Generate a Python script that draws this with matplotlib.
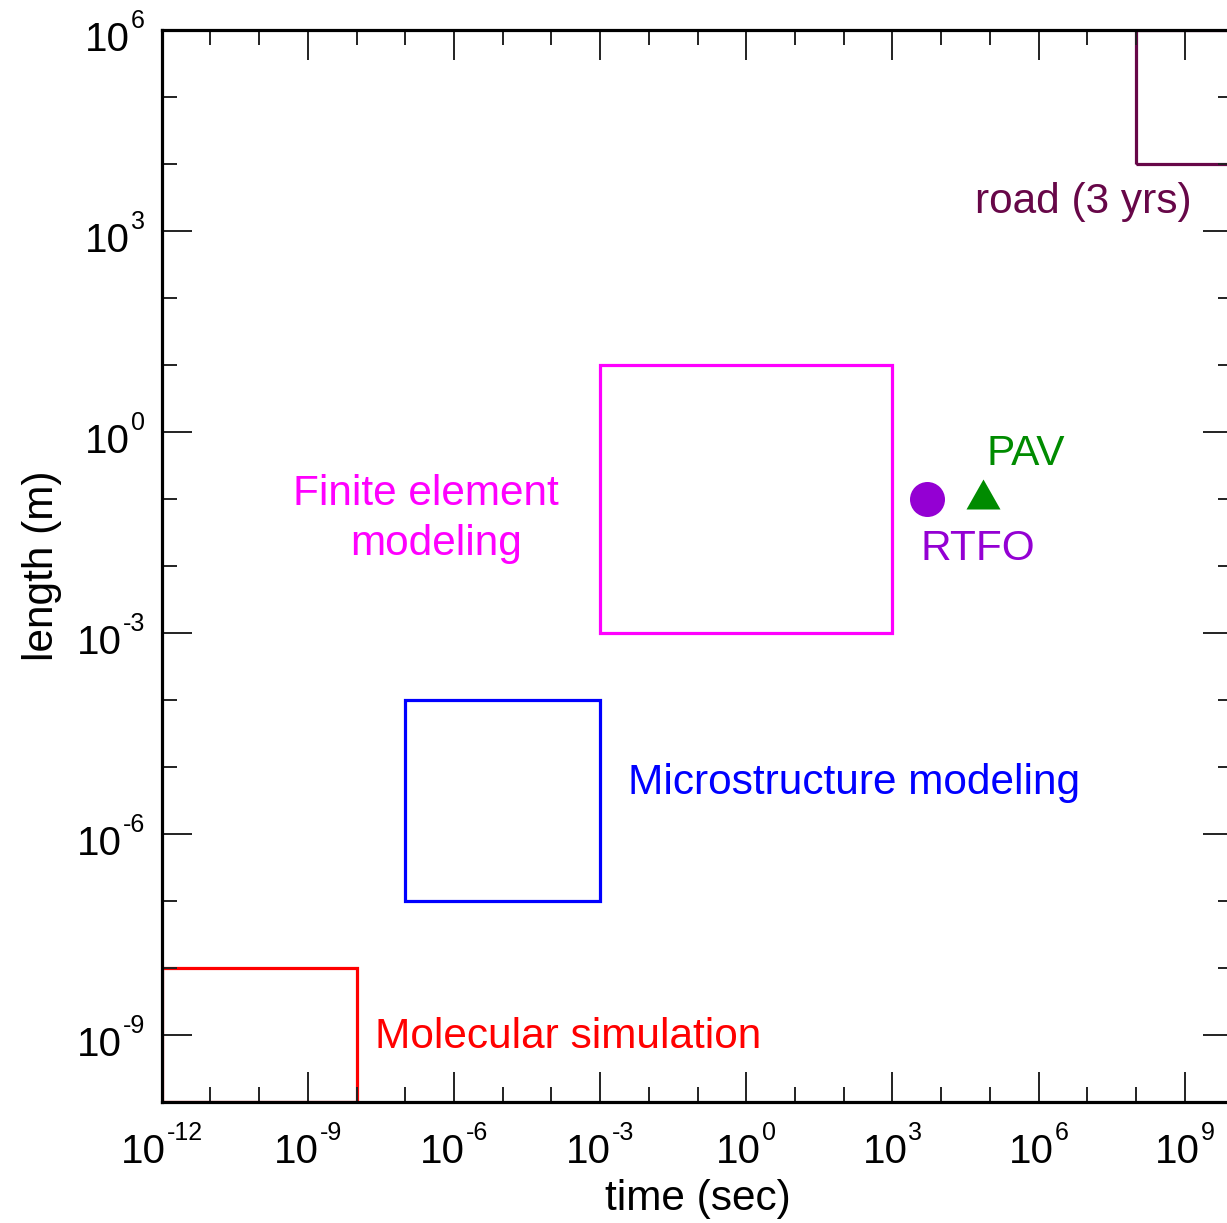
import matplotlib
matplotlib.use('Agg')
import matplotlib.pyplot as plt
import numpy as np
from matplotlib.patches import Rectangle
from matplotlib.ticker import LogLocator, NullFormatter
from matplotlib.transforms import offset_copy

plt.rcParams['font.family'] = ['Liberation Sans', 'DejaVu Sans']

# modelling scales: time range (sec) and length range (m) of each method
box_names = ['Molecular simulation', 'Microstructure modeling',
             'Finite element modeling', 'road (3 yrs)']
box_t0 = [1e-12, 1e-7, 1e-3, 1e8]
box_t1 = [1e-8, 1e-3, 1e3, 1e11]
box_l0 = [1e-10, 1e-7, 1e-3, 1e4]
box_l1 = [1e-8, 1e-4, 1e1, 1e6]
box_colors = ['#ff0000', '#0000ff', '#ff00ff', '#670748']

# lab ageing tests
test_names = ['RTFO', 'PAV']
test_time = [5100, 72000]   # 85 min, 20 h
test_length = [0.1, 0.1]

# decade exponents carrying a label
x_exps = [-12, -9, -6, -3, 0, 3, 6, 9]
y_exps = [-9, -6, -3, 0, 3, 6]

fig = plt.figure(figsize=(12.27, 12.23), dpi=100)
ax = fig.add_axes([161.7 / 1227, 121 / 1223, 1071.8 / 1227, 1072 / 1223])
ax.set_xscale('log')
ax.set_yscale('log')
ax.set_xlim(1e-12, 1e10)
ax.set_ylim(1e-10, 1e6)

for t0, t1, l0, l1, c in zip(box_t0, box_t1, box_l0, box_l1, box_colors):
    ax.add_patch(Rectangle((t0, l0), t1 - t0, l1 - l0, fill=False,
                           edgecolor=c, linewidth=2.3, zorder=1))

# triangle with its centroid on the data point
tri = [(0, 20), (-17, -10), (17, -10), (0, 20)]
ax.plot(test_time[0], test_length[0], 'o', color='#9400d3', markersize=25.2,
        markeredgewidth=0, zorder=3)
ax.plot(test_time[1], test_length[1], marker=tri, linestyle='none',
        color='#008b00', markersize=28.8, markeredgewidth=0, zorder=3)

fs = 30.5
ax.text(0.1225, 0.5569, 'Finite element', color='#ff00ff', fontsize=fs,
        transform=ax.transAxes, va='baseline')
ax.text(0.1757, 0.5103, 'modeling', color='#ff00ff', fontsize=fs,
        transform=ax.transAxes, va='baseline')
ax.text(0.4351, 0.2873, box_names[1], color='#0000ff', fontsize=fs,
        transform=ax.transAxes, va='baseline')
ax.text(0.1990, 0.0504, box_names[0], color='#ff0000', fontsize=fs,
        transform=ax.transAxes, va='baseline')
ax.text(0.7588, 0.8293, box_names[3], color='#670748', fontsize=fs,
        transform=ax.transAxes, va='baseline')
ax.text(0.7700, 0.5942, test_names[1], color='#008b00', fontsize=fs,
        transform=ax.transAxes, va='baseline')
ax.text(0.7084, 0.5056, test_names[0], color='#9400d3', fontsize=fs,
        transform=ax.transAxes, va='baseline')

ax.set_xticks(10.0 ** np.array(x_exps))
ax.set_yticks(10.0 ** np.array(y_exps))
ax.set_xticklabels([])
ax.set_yticklabels([])
ax.xaxis.set_minor_locator(LogLocator(base=10, subs=(1.0,), numticks=40))
ax.yaxis.set_minor_locator(LogLocator(base=10, subs=(1.0,), numticks=40))
ax.xaxis.set_minor_formatter(NullFormatter())
ax.yaxis.set_minor_formatter(NullFormatter())
ax.tick_params(which='both', direction='in', top=True, right=True,
               width=1.4, color='#222222')
ax.tick_params(which='major', length=21.6)
ax.tick_params(which='minor', length=10.8)
for sp in ax.spines.values():
    sp.set_linewidth(2.3)

# "10" plus a raised exponent, built from two texts so the exponent sits high
r = fig.canvas.get_renderer()


def power_label(pos, exp, axis):
    if axis == 'x':
        base = ax.get_xaxis_transform()
        xy = (pos, 0)
    else:
        base = ax.get_yaxis_transform()
        xy = (0, pos)
    main = ax.text(*xy, '10', fontsize=29, transform=base, va='baseline')
    sup = ax.text(*xy, str(exp), fontsize=18, transform=base, va='baseline')
    w1 = main.get_window_extent(r).width
    w2 = sup.get_window_extent(r).width
    gap = 1
    if axis == 'x':
        x0 = -(w1 + gap + w2) / 2
        main.set_transform(offset_copy(base, fig, x=x0, y=-61, units='dots'))
        sup.set_transform(offset_copy(base, fig, x=x0 + w1 + gap, y=-38,
                                      units='dots'))
    else:
        x1 = -16.7 - w2
        main.set_transform(offset_copy(base, fig, x=x1 - gap - w1, y=-21,
                                       units='dots'))
        sup.set_transform(offset_copy(base, fig, x=x1, y=2, units='dots'))


for e in x_exps:
    power_label(10.0 ** e, e, 'x')
for e in y_exps:
    power_label(10.0 ** e, e, 'y')

ax.set_xlabel('time (sec)', fontsize=fs, va='baseline')
ax.xaxis.set_label_coords(0.5, -0.1007)
ax.set_ylabel('length (m)', fontsize=fs, va='baseline')
ax.yaxis.set_label_coords(-0.1014, 0.5)

fig.savefig('out.png', dpi=100)
